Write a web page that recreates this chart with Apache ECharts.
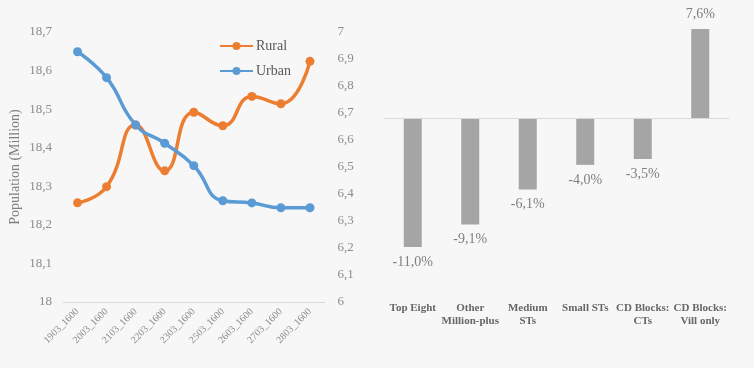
<!DOCTYPE html>
<html>
<head>
<meta charset="utf-8">
<script src="https://cdn.jsdelivr.net/npm/echarts@6/dist/echarts.min.js"></script>
<style>
html,body{margin:0;padding:0;background:#f7f7f7;}
#c{width:754px;height:368px;}
</style>
</head>
<body>
<div id="c"></div>
<script>
const periods = ['1903_1600','2003_1600','2103_1600','2203_1600','2303_1600','2503_1600','2603_1600','2703_1600','2803_1600'];
const rural = [18.257, 18.299, 18.459, 18.340, 18.492, 18.457, 18.533, 18.514, 18.624];
const urban = [6.927, 6.831, 6.656, 6.588, 6.505, 6.375, 6.367, 6.349, 6.349];
const groups = ['Top Eight', 'Other\nMillion-plus', 'Medium\nSTs', 'Small STs', 'CD Blocks:\nCTs', 'CD Blocks:\nVill only'];
const change = [-11.0, -9.1, -6.1, -4.0, -3.5, 7.6];

const FONT = '"Liberation Serif", "DejaVu Serif", serif';
const comma = v => String(v).replace('.', ',');

const chart = echarts.init(document.getElementById('c'));
chart.setOption({
  backgroundColor: '#f7f7f7',
  textStyle: { fontFamily: FONT },
  animation: false,
  legend: {
    data: ['Rural', 'Urban'],
    orient: 'vertical',
    left: 214,
    top: 34,
    itemWidth: 33,
    itemHeight: 10,
    itemGap: 11,
    textStyle: { fontFamily: FONT, fontSize: 14, color: '#595959', padding: [0,0,0,-2] }
  },
  grid: [
    { left: 63, right: 429.5, top: 32, bottom: 66 },
    { left: 384, right: 25, top: 24.2, bottom: 109.4 }
  ],
  xAxis: [
    {
      gridIndex: 0, type: 'category', data: periods, boundaryGap: true,
      axisLine: { lineStyle: { color: '#d9d9d9', width: 1 } },
      axisTick: { show: false },
      axisLabel: { rotate: 45, fontSize: 10, color: '#8c8c8c', fontFamily: FONT, margin: 8 }
    },
    {
      gridIndex: 1, type: 'category', data: groups,
      axisLine: { show: false, onZero: false },
      axisTick: { show: false },
      axisLabel: { fontSize: 11, fontWeight: 'bold', color: '#666666', fontFamily: FONT, margin: 43, lineHeight: 13, interval: 0 }
    }
  ],
  yAxis: [
    {
      gridIndex: 0, type: 'value', min: 18, max: 18.7, interval: 0.1,
      name: 'Population (Million)', nameLocation: 'middle', nameGap: 41, nameRotate: 90,
      nameTextStyle: { fontSize: 14, color: '#808080', fontFamily: FONT },
      axisLine: { show: false }, axisTick: { show: false }, splitLine: { show: false },
      axisLabel: { fontSize: 13, color: '#8c8c8c', fontFamily: FONT, margin: 11,
        formatter: v => comma(Math.round(v * 10) / 10) }
    },
    {
      gridIndex: 0, type: 'value', min: 6, max: 7, interval: 0.1, position: 'right',
      axisLine: { show: false }, axisTick: { show: false }, splitLine: { show: false },
      axisLabel: { fontSize: 13, color: '#8c8c8c', fontFamily: FONT, margin: 13,
        formatter: v => comma(Math.round(v * 10) / 10) }
    },
    {
      gridIndex: 1, type: 'value', min: -12, max: 8, show: false,
      splitLine: { show: false }
    }
  ],
  series: [
    {
      name: 'Rural', type: 'line', xAxisIndex: 0, yAxisIndex: 0, data: rural,
      smooth: 0.5, symbol: 'circle', symbolSize: 9,
      itemStyle: { color: '#ED7D31' }, lineStyle: { color: '#ED7D31', width: 3.5 }
    },
    {
      name: 'Urban', type: 'line', xAxisIndex: 0, yAxisIndex: 1, data: urban,
      smooth: 0.5, symbol: 'circle', symbolSize: 9,
      itemStyle: { color: '#5B9BD5' }, lineStyle: { color: '#5B9BD5', width: 3.5 }
    },
    {
      name: 'Change', type: 'bar', xAxisIndex: 1, yAxisIndex: 2,
      barWidth: 18,
      data: change.map(v => ({
        value: v,
        label: { position: v < 0 ? 'bottom' : 'top' }
      })),
      itemStyle: { color: '#a5a5a5' },
      label: { show: true, distance: 8, fontSize: 14, color: '#7f7f7f', fontFamily: FONT,
        formatter: p => comma(p.value.toFixed(1)) + '%' },
      markLine: {
        silent: true, symbol: 'none', label: { show: false },
        lineStyle: { color: '#d9d9d9', type: 'solid', width: 1 },
        data: [{ yAxis: 0 }]
      }
    }
  ]
});
</script>
</body>
</html>
